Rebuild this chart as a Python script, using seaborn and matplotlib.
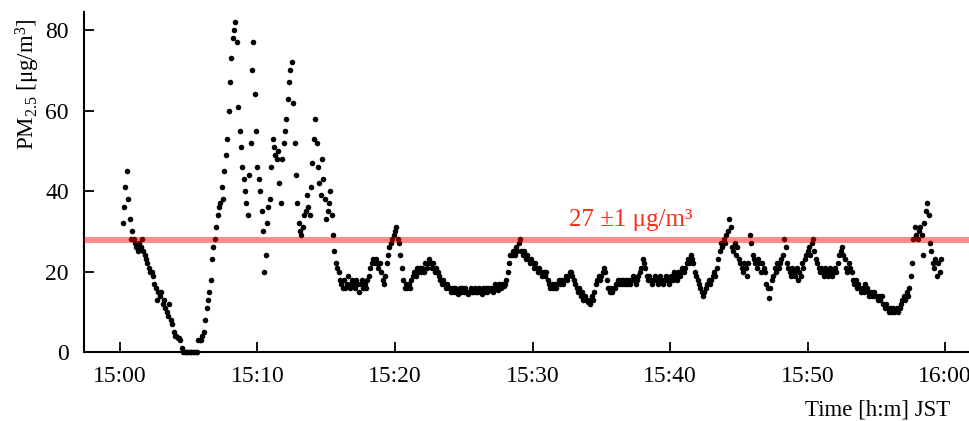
import numpy as np
import pandas as pd
import seaborn as sns
import matplotlib.pyplot as plt
import matplotlib.dates as mdates

# PM2.5 readings every 6 s, one row per minute, starting 15:00:12
pm25_1500 = [
    32, 36, 41, 45, 38, 33, 28, 30,
    28, 27, 26, 25, 27, 26, 28, 25, 24, 23,
    22, 21, 20, 20, 19, 17, 16, 13, 15, 14,
    15, 12, 13, 11, 10, 9, 12, 8, 7, 5,
    4, 4, 3.5, 3.5, 3, 1, 0, 0, 0, 0,
    0, 0, 0, 0, 0, 0, 0, 3, 3, 3,
    4, 5, 8, 11, 13, 15, 18, 23, 26, 28,
    31, 34, 36, 37, 41, 38, 45, 49, 53, 60,
    67, 73, 78, 80, 82, 77, 61, 55, 51, 46,
    43, 40, 37, 34, 44, 52, 70, 77, 64, 55,
]
pm25_1510 = [
    46, 43, 40, 35, 30, 20, 24, 32, 36, 38,
    46, 53, 51, 49, 48, 50, 42, 37, 48, 52,
    55, 58, 63, 67, 70, 72, 62, 52, 44, 37,
    32, 30, 29, 31, 34, 35, 39, 36, 34, 41,
    47, 53, 58, 52, 46, 42, 39, 48, 43, 38,
    33, 35, 37, 40, 34, 29, 25, 22, 21, 20,
    18, 17, 16, 18, 16, 17, 19, 16, 17, 18,
    17, 16, 18, 17, 15, 17, 18, 16, 17, 16,
    18, 19, 21, 22, 23, 22, 23, 22, 21, 22,
    20, 18, 17, 19, 22, 24, 26, 27, 28, 29,
]
pm25_1520 = [
    30, 31, 28, 27, 24, 21, 18, 16, 17, 16,
    17, 16, 18, 19, 20, 19, 21, 20, 21, 20,
    21, 20, 22, 21, 22, 23, 22, 21, 22, 20,
    21, 20, 19, 18, 17, 18, 17, 16, 17, 16,
    16, 15, 16, 15, 16, 15, 14.5, 16, 15, 16,
    15, 16, 15, 14.5, 15, 16, 15, 15, 16, 15,
    15, 16, 15, 14.5, 16, 15, 16, 15, 16, 15.5,
    16, 15, 16, 17, 16, 15.5, 17, 16, 17, 16.5,
    17, 18, 20, 22, 24, 24, 25, 24, 26, 25,
    27, 28, 25, 24, 25, 23, 24, 23, 22, 23,
]
pm25_1530 = [
    22, 21, 22, 21, 20, 21, 20, 19, 20, 19,
    20, 18, 17, 16, 17, 16, 17, 16, 17, 18,
    17, 18, 17, 18, 19, 18, 19, 20, 20, 19,
    18, 17, 16, 15, 16, 14, 15, 13, 14, 13,
    12.5, 13, 12, 14, 13, 15, 17, 18, 19, 18,
    19, 20, 21, 20, 18, 16, 15, 16, 15, 16,
    16, 17, 18, 17, 18, 17, 18, 17, 18, 17,
    18, 17, 18, 19, 18, 17, 18, 19, 20, 21,
    23, 22, 21, 19, 18, 19, 18, 17, 18, 19,
    18, 17, 18, 19, 18, 17, 18, 19, 18, 17,
]
pm25_1540 = [
    18, 19, 18, 20, 19, 18, 20, 19, 20, 21,
    20, 21, 22, 23, 22, 24, 23, 22, 20, 19,
    18, 17, 16, 15, 14, 15, 16, 17, 18, 17,
    18, 19, 20, 19, 21, 23, 25, 27, 26, 28,
    27, 29, 30, 33, 31, 26, 25, 27, 24, 26,
    23, 22, 21, 20, 22, 21, 19, 22, 29, 27,
    24, 23, 22, 21, 23, 22, 20, 22, 21, 20,
    17, 16, 13.5, 16, 18, 19, 21, 20, 22, 21,
    22, 23, 24, 28, 26, 22, 21, 20, 19, 21,
    20, 19, 21, 18, 20, 19, 22, 21, 23, 24,
]
pm25_1550 = [
    25, 26, 24, 27, 28, 25, 23, 22, 21, 20,
    21, 20, 19, 21, 20, 19, 21, 20, 19, 20,
    21, 20, 22, 24, 25, 26, 24, 23, 21, 20,
    22, 21, 20, 18, 17, 18, 16, 17, 16, 15,
    16, 15, 17, 16, 15, 14, 15, 14, 15, 14,
    14, 13, 14, 13, 14, 12, 11, 12, 11, 10,
    11, 10, 11, 10, 10.5, 11, 10, 11, 12, 13,
    14, 13, 15, 14, 16, 19, 22, 28, 31, 29,
    28, 30, 31, 29, 24, 32, 35, 37, 34, 27,
    25, 22, 21, 23, 19, 22, 20, 23,
]

pm25 = pm25_1500 + pm25_1510 + pm25_1520 + pm25_1530 + pm25_1540 + pm25_1550
times = pd.date_range("2000-01-01 15:00:12", periods=len(pm25), freq="6s")
df = pd.DataFrame({"time": times, "pm25": pm25})

ref_lo, ref_hi = 27, 28.7
ref_text = "27 ±1 μg/m³"

sns.set_style("ticks")
plt.rcParams["font.family"] = ["Liberation Serif", "DejaVu Serif"]
plt.rcParams["mathtext.fontset"] = "custom"
plt.rcParams["mathtext.rm"] = "Liberation Serif"
plt.rcParams["mathtext.it"] = "Liberation Serif:italic"
plt.rcParams["text.color"] = "black"
plt.rcParams["xtick.color"] = "black"
plt.rcParams["ytick.color"] = "black"
plt.rcParams["axes.edgecolor"] = "black"

fig = plt.figure(figsize=(9.7, 4.21), dpi=100)
ax = fig.add_axes([84 / 970, 1 - 352 / 421, 1 - 84 / 970, (352 - 12) / 421])

sns.scatterplot(data=df, x="time", y="pm25", ax=ax, color="black",
                s=16, linewidth=0, clip_on=False, zorder=2)
ax.axhspan(ref_lo, ref_hi, color="red", alpha=0.45, linewidth=0, zorder=3)
ax.text(pd.Timestamp("2000-01-01 15:37:10"), 32.8, ref_text, color="#ff2a1a",
        fontsize=18, ha="center", va="center")

ax.set_xlim(pd.Timestamp("2000-01-01 14:57:23"), pd.Timestamp("2000-01-01 16:01:49"))
ax.set_ylim(0, 84.5)
ax.set_yticks([0, 20, 40, 60, 80])
ax.xaxis.set_major_locator(mdates.MinuteLocator(byminute=[0, 10, 20, 30, 40, 50]))
ax.xaxis.set_major_formatter(mdates.DateFormatter("%H:%M"))
ax.tick_params(direction="in", length=7, width=1.3, labelsize=17, pad=10)
ax.tick_params(axis="y", pad=11)
for side in ["left", "bottom"]:
    ax.spines[side].set_linewidth(1.5)
sns.despine(ax=ax)
ax.set_xlabel("")
ax.set_ylabel("")

fig.text(28 / 970, 1 - 84 / 421, r"PM$_{2.5}$ [μg/m$^{3}$]", rotation=90,
         ha="center", va="center", fontsize=16.5)
fig.text(950 / 970, 1 - 410 / 421, "Time [h:m] JST", ha="right", va="center",
         fontsize=16.5)

fig.savefig("out.png", dpi=100)
